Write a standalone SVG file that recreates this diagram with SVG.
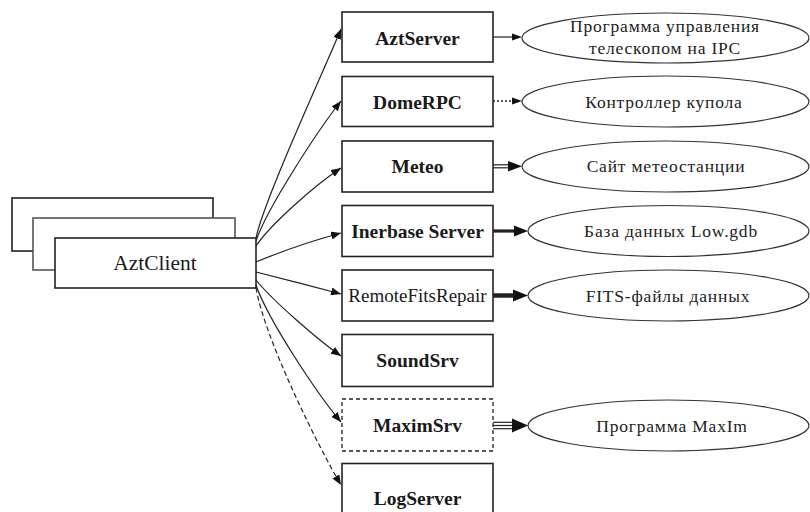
<svg xmlns="http://www.w3.org/2000/svg" width="810" height="512" viewBox="0 0 810 512">
<style>
.box{fill:#fff;stroke:#222;stroke-width:1.6}
.ell{fill:#fff;stroke:#333;stroke-width:1.2}
.lb{font-family:"Liberation Serif","DejaVu Serif",serif;font-size:19.5px;font-weight:bold;fill:#1a1a1a;text-anchor:middle}
.lr{font-family:"Liberation Serif","DejaVu Serif",serif;font-size:19px;fill:#1a1a1a;text-anchor:middle}
.et{font-family:"Liberation Serif","DejaVu Serif",serif;font-size:17.5px;fill:#222;text-anchor:middle;letter-spacing:0.8px}
.cn{fill:none;stroke:#222;stroke-width:1.2}
.ah{fill:#111;stroke:none}
</style>
<defs>
<marker id="arr" markerUnits="userSpaceOnUse" markerWidth="11" markerHeight="8" refX="10" refY="4" orient="auto">
<path d="M0,0 L10,4 L0,8 z" fill="#111"/>
</marker>
</defs>

<g id="AztClient">
<rect class="box" x="12" y="198" width="201" height="53"/>
<rect class="box" x="33" y="218" width="202" height="52" style="stroke:#555"/>
<rect class="box" x="55" y="238" width="201" height="50"/>
<text class="lr" x="155" y="270" style="font-size:21.5px">AztClient</text>
</g>

<g id="AztServer">
<rect class="box" x="342" y="12" width="151" height="50"/>
<text class="lb" x="417.5" y="45">AztServer</text>
</g>
<g id="DomeRPC">
<rect class="box" x="342" y="76.5" width="151" height="50"/>
<text class="lb" x="417.5" y="108.5">DomeRPC</text>
</g>
<g id="Meteo">
<rect class="box" x="342" y="141" width="151" height="51"/>
<text class="lb" x="417.5" y="173">Meteo</text>
</g>
<g id="InerbaseServer">
<rect class="box" x="342" y="205.5" width="151" height="51"/>
<text class="lb" x="417.5" y="238">Inerbase Server</text>
</g>
<g id="RemoteFitsRepair">
<rect class="box" x="342" y="270" width="151" height="51"/>
<text class="lr" x="417.5" y="302">RemoteFitsRepair</text>
</g>
<g id="SoundSrv">
<rect class="box" x="342" y="334.5" width="151" height="52"/>
<text class="lb" x="417.5" y="366.5">SoundSrv</text>
</g>
<g id="MaximSrv">
<rect class="box" x="342" y="399" width="151" height="52" style="stroke-dasharray:4,3;stroke-width:1.3"/>
<text class="lb" x="417.5" y="432">MaximSrv</text>
</g>
<g id="LogServer">
<rect class="box" x="342" y="463.5" width="151" height="52"/>
<text class="lb" x="417.5" y="505">LogServer</text>
</g>

<g id="ProgIPC">
<ellipse class="ell" cx="665.5" cy="38" rx="143.5" ry="25"/>
<text class="et" x="665" y="31.5">Программа управления</text>
<text class="et" x="665" y="54">телескопом на IPC</text>
</g>
<g id="Dome">
<ellipse class="ell" cx="665.5" cy="101.5" rx="143.5" ry="25.5"/>
<text class="et" x="664" y="107.5">Контроллер купола</text>
</g>
<g id="MeteoSite">
<ellipse class="ell" cx="665.5" cy="166.5" rx="143.5" ry="25.5"/>
<text class="et" x="666" y="172">Сайт метеостанции</text>
</g>
<g id="LowGdb">
<ellipse class="ell" cx="668.5" cy="231" rx="140.5" ry="25.5"/>
<text class="et" x="671" y="237">База данных Low.gdb</text>
</g>
<g id="Fits">
<ellipse class="ell" cx="668.5" cy="295.5" rx="140.5" ry="25.5"/>
<text class="et" x="668" y="301.5">FITS-файлы данных</text>
</g>
<g id="MaxIm">
<ellipse class="ell" cx="668.5" cy="425.5" rx="140.5" ry="25.5"/>
<text class="et" x="672" y="431.5">Программа MaxIm</text>
</g>

<g id="connectors">
<path class="cn" d="M256,238 C264,200 322,75 341,29" marker-end="url(#arr)"/>
<path class="cn" d="M256,241 C266,210 318,130 341,101" marker-end="url(#arr)"/>
<path class="cn" d="M256,246 C270,225 315,185 341,168" marker-end="url(#arr)"/>
<path class="cn" d="M256,262 C280,252 315,240 341,233" marker-end="url(#arr)"/>
<path class="cn" d="M256,272 C280,278 315,287 341,294" marker-end="url(#arr)"/>
<path class="cn" d="M256,280 C272,300 318,340 341,356" marker-end="url(#arr)"/>
<path class="cn" d="M256,285 C268,320 318,395 341,422" marker-end="url(#arr)"/>
<path class="cn" d="M256,288 C265,340 320,450 341,485" style="stroke-dasharray:5,3" marker-end="url(#arr)"/>

<line class="cn" x1="493" y1="37" x2="513" y2="37"/>
<polygon class="ah" points="512,33.5 522,37 512,40.5"/>

<line class="cn" x1="493" y1="101" x2="512" y2="101" style="stroke-dasharray:2,2;stroke-width:1.6"/>
<polygon class="ah" points="512,97.5 522,101 512,104.5"/>

<line class="cn" x1="493" y1="164.8" x2="510" y2="164.8"/>
<line class="cn" x1="493" y1="167.8" x2="510" y2="167.8"/>
<polygon class="ah" points="508,161 522,166.3 508,171.6"/>

<line class="cn" x1="493" y1="231" x2="516" y2="231" style="stroke-width:3.2"/>
<polygon class="ah" points="514,225.5 528,231 514,236.5"/>

<line class="cn" x1="493" y1="295.5" x2="516" y2="295.5" style="stroke-width:4.5"/>
<polygon class="ah" points="513,289.5 528,295.5 513,301.5"/>

<line class="cn" x1="493" y1="422.3" x2="514" y2="422.3"/>
<line class="cn" x1="493" y1="425.5" x2="514" y2="425.5"/>
<line class="cn" x1="493" y1="428.7" x2="514" y2="428.7"/>
<polygon class="ah" points="512,418.5 528,425.5 512,432.5"/>
</g>
</svg>
